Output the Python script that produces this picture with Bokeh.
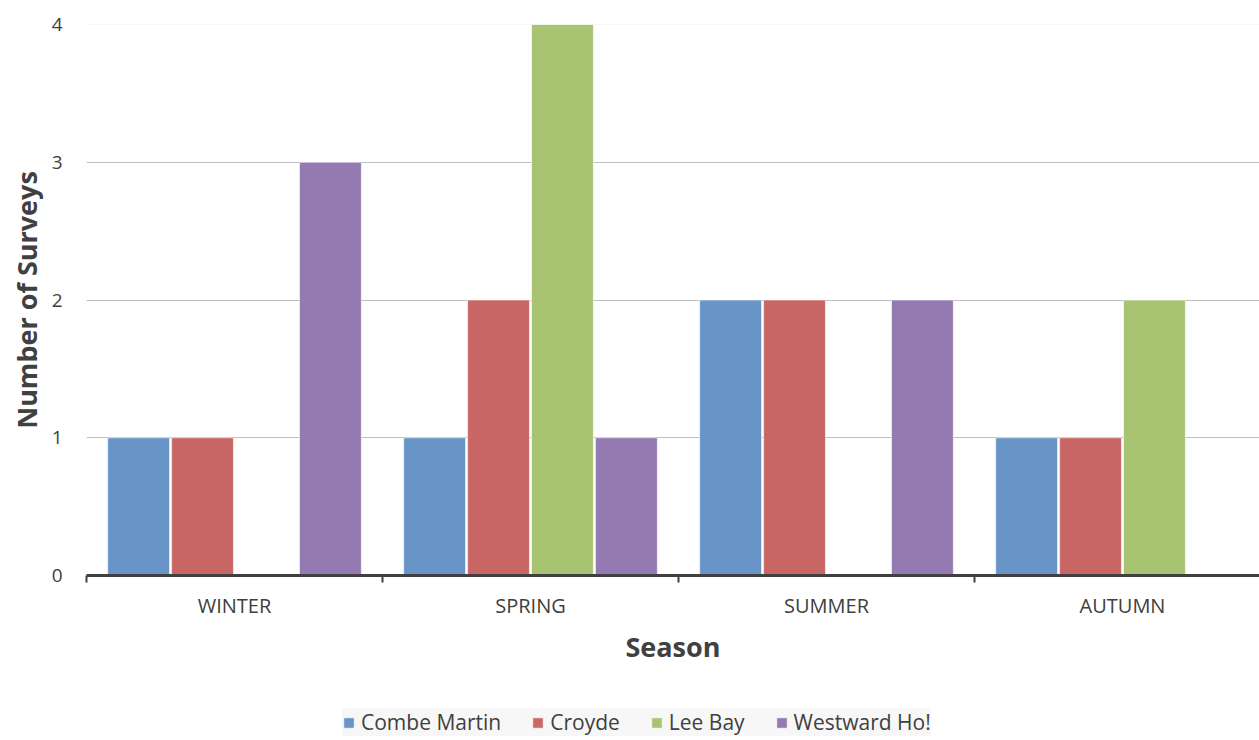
import numpy as np
from bokeh.plotting import figure
from bokeh.layouts import column
from bokeh.models import (ColumnDataSource, FixedTicker, Range1d, Span, Legend,
                          LegendItem)
from bokeh.embed import file_html
from bokeh.resources import INLINE

seasons = ["WINTER", "SPRING", "SUMMER", "AUTUMN"]
sites = ["Combe Martin", "Croyde", "Lee Bay", "Westward Ho!"]
combe_martin = [1, 1, 2, 1]
croyde = [1, 2, 2, 1]
lee_bay = [0, 4, 0, 2]
westward_ho = [3, 1, 2, 0]
series = [combe_martin, croyde, lee_bay, westward_ho]
colors = ["#6894C7", "#C86766", "#A8C472", "#937AB0"]

FONT = "Open Sans"
TXT = "#404040"

W = 1259
H_CHART, H_LEG = 700, 40
LEFT, TOP = 86, 24
CAT_PX = 296.0

p = figure(width=W, height=H_CHART, output_backend="svg", toolbar_location=None,
           x_range=Range1d(0, (W - LEFT) / CAT_PX), y_range=Range1d(0, 4),
           min_border_left=LEFT, min_border_right=0, min_border_top=TOP,
           min_border_bottom=H_CHART - 575)
p.outline_line_color = None
p.background_fill_color = "white"

centers = np.arange(len(seasons)) + 0.5
step = 0.216
bw = 0.209
sources = []
for i, (name, vals, col) in enumerate(zip(sites, series, colors)):
    off = (i - 1.5) * step
    src = ColumnDataSource(dict(x=centers + off, top=vals))
    sources.append(src)
    p.vbar(x="x", top="top", width=bw, source=src, fill_color=col,
           line_color="white", line_alpha=0.6, line_width=1)

# y axis
ya = p.yaxis[0]
ya.ticker = FixedTicker(ticks=[0, 1, 2, 3, 4])
ya.axis_line_color = None
ya.major_tick_line_color = None
ya.minor_tick_line_color = None
ya.major_tick_out = 0
ya.minor_tick_out = 0
ya.major_label_standoff = 24
ya.major_label_text_font = FONT
ya.major_label_text_font_size = "19px"
ya.major_label_text_color = TXT
ya.axis_label = "Number of Surveys"
ya.axis_label_text_font = FONT
ya.axis_label_text_font_style = "bold"
ya.axis_label_text_font_size = "27px"
ya.axis_label_text_color = TXT
ya.axis_label_standoff = 4

# x axis
xa = p.xaxis[0]
xa.ticker = FixedTicker(ticks=list(centers), minor_ticks=list(range(len(seasons))))
xa.major_label_overrides = {float(c): s for c, s in zip(centers, seasons)}
xa.axis_line_color = TXT
xa.axis_line_width = 3
xa.major_tick_line_color = None
xa.major_tick_out = 0
xa.minor_tick_line_color = TXT
xa.minor_tick_line_width = 2
xa.minor_tick_out = 7
xa.minor_tick_in = 0
xa.major_label_standoff = 9
xa.major_label_text_font = FONT
xa.major_label_text_font_size = "20px"
xa.major_label_text_color = TXT
xa.axis_label = "Season"
xa.axis_label_text_font = FONT
xa.axis_label_text_font_style = "bold"
xa.axis_label_text_font_size = "27px"
xa.axis_label_text_color = TXT
xa.axis_label_standoff = 6

# grid
p.xgrid.grid_line_color = None
p.ygrid.ticker = FixedTicker(ticks=[1, 2, 3])
p.ygrid.grid_line_color = "#BFBFBF"
p.ygrid.grid_line_width = 1
p.add_layout(Span(location=4, dimension="width", line_color="#F2F2F2", line_width=1), "center")

# legend strip (same series sources, bars kept outside its visible range)
pl = figure(width=W, height=H_LEG, output_backend="svg", toolbar_location=None,
            x_range=Range1d(100, 101), y_range=Range1d(100, 101),
            x_axis_location=None, y_axis_location=None, min_border=0)
pl.outline_line_color = None
pl.xgrid.grid_line_color = None
pl.ygrid.grid_line_color = None
items = []
for name, src, col in zip(sites, sources, colors):
    r = pl.vbar(x="x", top="top", width=bw, source=src, fill_color=col,
                line_color="white", line_alpha=0.6, line_width=1)
    items.append(LegendItem(label=name, renderers=[r]))

lg = Legend(items=items)
lg.orientation = "horizontal"
lg.location = (256, 4)
lg.margin = 0
lg.padding = 12
lg.spacing = 30
lg.glyph_width = 13
lg.glyph_height = 13
lg.label_height = 16
lg.label_standoff = 6
lg.label_text_font = FONT
lg.label_text_font_size = "21px"
lg.label_text_color = TXT
lg.background_fill_color = "#F7F7F7"
lg.background_fill_alpha = 1
lg.border_line_color = None
pl.add_layout(lg, "center")

layout = column(p, pl, spacing=0)
open("out.html", "w").write(file_html(layout, INLINE))
